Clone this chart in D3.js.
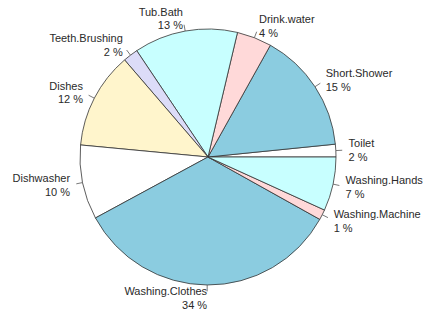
<!DOCTYPE html>
<html>
<head>
<meta charset="utf-8">
<script src="https://cdn.jsdelivr.net/npm/d3@7"></script>
<style>
  body { margin: 0; background: #fff; }
  text { font-family: "Liberation Sans", Arial, sans-serif; font-size: 11px; fill: #2a2a2a; }
</style>
</head>
<body>
<script>
// slices in R's order: counterclockwise from 3 o'clock
const categories = ["Toilet", "Short.Shower", "Drink.water", "Tub.Bath", "Teeth.Brushing",
    "Dishes", "Dishwasher", "Washing.Clothes", "Washing.Machine", "Washing.Hands"];
const shares = [1.6, 15.3, 4.4, 13.1, 1.9, 12.2, 9.4, 34.0, 1.3, 6.8];
const pctLabels = ["2 %", "15 %", "4 %", "13 %", "2 %", "12 %", "10 %", "34 %", "1 %", "7 %"];
const palette = ["#ffffff", "#8bcce0", "#ffd9d9", "#c8ffff", "#dcdcf8", "#fff5cc"];

const width = 425, height = 316;
const cx = 208, cy = 157, r = 128;

let svg = d3.select("body")
    .append("svg")
    .attr("width", width)
    .attr("height", height);

let g = svg.append("g").attr("transform", `translate(${cx},${cy})`);

let data = categories.map((c, i) => ({ name: c, value: shares[i], pct: pctLabels[i], i: i }));

// d3 angles go clockwise from 12 o'clock; R goes counterclockwise from 3 o'clock
let pie = d3.pie()
    .value(d => d.value)
    .sort(null)
    .startAngle(Math.PI / 2)
    .endAngle(Math.PI / 2 - 2 * Math.PI);

let arc = d3.arc().innerRadius(0).outerRadius(r);

let arcs = pie(data);

g.selectAll("path.slice")
    .data(arcs)
    .enter()
    .append("path")
    .attr("class", "slice")
    .attr("d", arc)
    .attr("fill", d => palette[d.data.i % palette.length])
    .attr("stroke", "#333")
    .attr("stroke-width", 0.8)
    .attr("stroke-linejoin", "round");

// tick marks and labels
arcs.forEach(d => {
    let a = (d.startAngle + d.endAngle) / 2;
    let ux = Math.sin(a), uy = -Math.cos(a);
    g.append("line")
        .attr("x1", ux * r).attr("y1", uy * r)
        .attr("x2", ux * r * 1.05).attr("y2", uy * r * 1.05)
        .attr("stroke", "#555")
        .attr("stroke-width", 0.8);
    let tx = ux * r * 1.1, ty = uy * r * 1.1;
    let t = g.append("text")
        .attr("x", tx)
        .attr("y", ty)
        .attr("text-anchor", tx < 0 ? "end" : "start");
    t.append("tspan").attr("x", tx).attr("dy", "-0.25em").text(d.data.name);
    t.append("tspan").attr("x", tx).attr("dy", "1.25em").text(d.data.pct);
});
</script>
</body>
</html>
